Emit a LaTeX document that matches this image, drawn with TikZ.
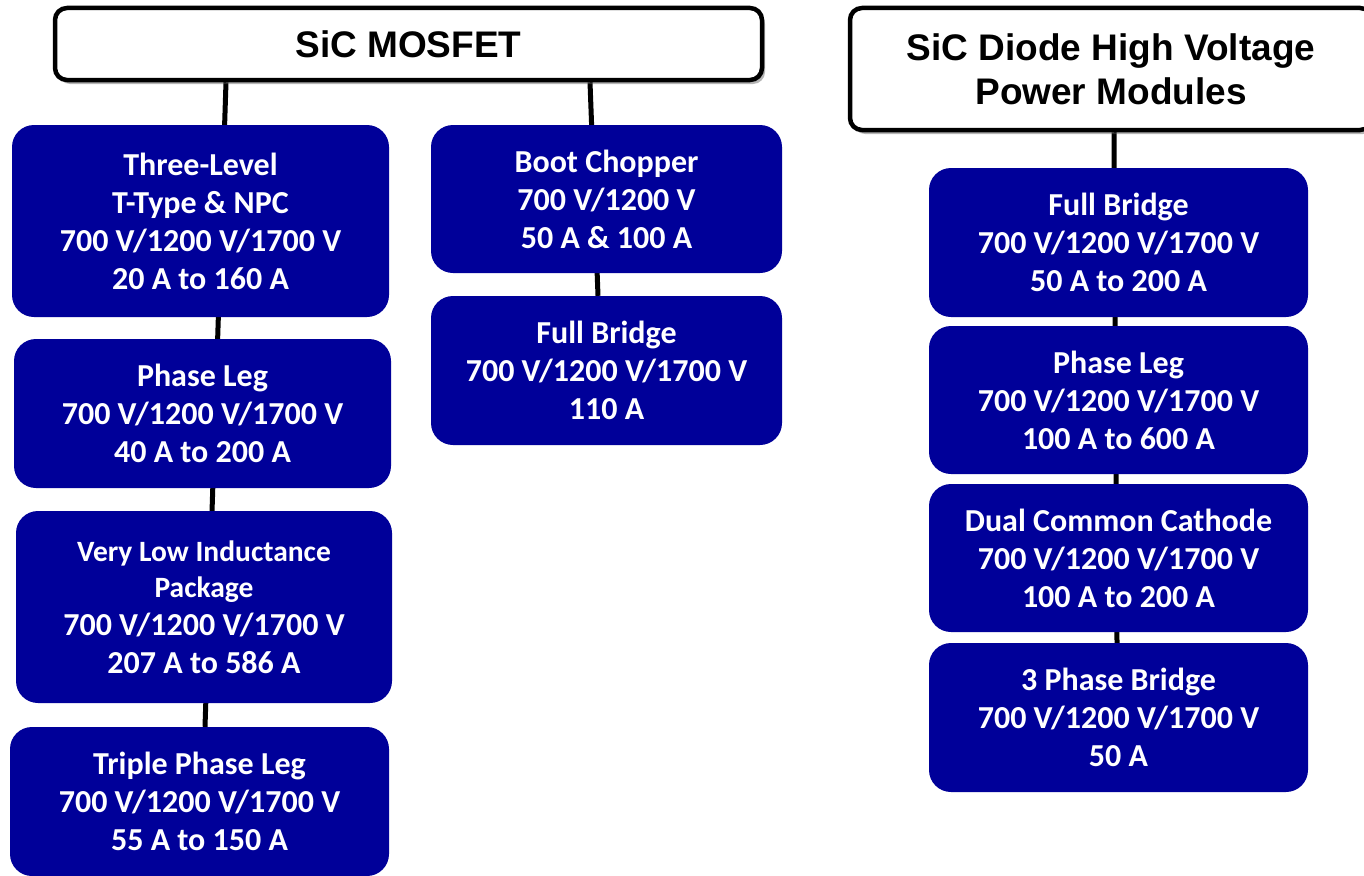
\documentclass[tikz,border=0pt]{standalone}
\usepackage{fontspec}
\setmainfont{Carlito}
\newfontfamily\headfont{Liberation Sans}
\usepackage{xcolor}
\usepackage{tikz}
\usetikzlibrary{shadows,backgrounds}
\definecolor{sicblue}{RGB}{0,0,153}
\definecolor{sicshade}{RGB}{90,90,90}
\newcommand{\vrange}{700 V/1200 V/1700 V}

\tikzset{
  header/.style={draw=black, line width=4.5pt, fill=white, rounded corners=12pt,
    inner sep=0pt, align=center,
    drop shadow={shadow xshift=3pt, shadow yshift=-4pt, opacity=0.45, fill=sicshade},
    font=\headfont\fontsize{37}{44}\selectfont\bfseries},
  module/.style={fill=sicblue, text=white, rounded corners=22pt, inner sep=0pt,
    align=center, font=\fontsize{32}{38}\selectfont\bfseries},
  link/.style={draw=black, line width=5pt}
}

\begin{document}
\begin{tikzpicture}[x=1pt, y=-1pt]
    \useasboundingbox (0,0) rectangle (1364,875);

    % Headers
    \node[header, minimum width=707pt, minimum height=72pt] (mosfet) at (408.5,44) {SiC MOSFET};
    \node[header, minimum width=522pt, minimum height=122pt] (diode) at (1111,69)
        {SiC Diode High Voltage\\Power Modules};

    % MOSFET modules, left column
    \node[module, minimum width=377pt, minimum height=192pt] (tlevel) at (200.5,221)
        {Three-Level\\T-Type \& NPC\\\vrange\\20 A to 160 A};
    \node[module, minimum width=377pt, minimum height=149pt] (mphase) at (202.5,413.5)
        {Phase Leg\\\vrange\\40 A to 200 A};
    \node[module, minimum width=376pt, minimum height=192pt] (lowind) at (204,607)
        {{\fontsize{29.5}{36}\selectfont Very Low Inductance}\\[-2pt]
         {\fontsize{29.5}{36}\selectfont Package}\\\vrange\\207 A to 586 A};
    \node[module, minimum width=379pt, minimum height=149pt] (triple) at (199.5,801.5)
        {Triple Phase Leg\\\vrange\\55 A to 150 A};

    % MOSFET modules, middle column
    \node[module, minimum width=351pt, minimum height=148pt] (chopper) at (606.5,199)
        {Boot Chopper\\700 V/1200 V\\50 A \& 100 A};
    \node[module, minimum width=351pt, minimum height=149pt] (mbridge) at (606.5,370.5)
        {Full Bridge\\\vrange\\110 A};

    % Diode modules
    \node[module, minimum width=379pt, minimum height=149pt] (dbridge) at (1118.5,242.5)
        {Full Bridge\\\vrange\\50 A to 200 A};
    \node[module, minimum width=379pt, minimum height=148pt] (dphase) at (1118.5,400)
        {Phase Leg\\\vrange\\100 A to 600 A};
    \node[module, minimum width=379pt, minimum height=148pt] (dcathode) at (1118.5,558)
        {Dual Common Cathode\\\vrange\\100 A to 200 A};
    \node[module, minimum width=379pt, minimum height=149pt] (tbridge) at (1118.5,717.5)
        {3 Phase Bridge\\\vrange\\50 A};

    % Trunk lines
    \begin{pgfonlayer}{background}
        \draw[link] ([xshift=-182.5pt]mosfet.south) -- ([xshift=5.5pt]triple.north);
        \draw[link] ([xshift=181.5pt]mosfet.south) -- ([xshift=-8.5pt]mbridge.north);
        \draw[link] ([xshift=3pt]diode.south) -- ([xshift=-1.5pt]tbridge.north);
    \end{pgfonlayer}
\end{tikzpicture}
\end{document}
